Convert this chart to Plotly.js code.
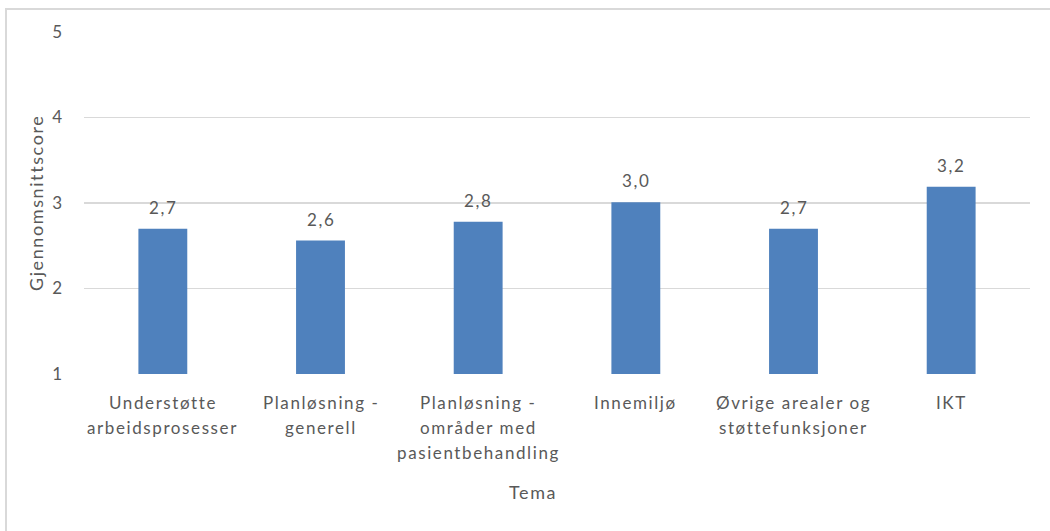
<!DOCTYPE html>
<html>
<head>
<meta charset="utf-8">
<script src="https://cdn.plot.ly/plotly-3.0.1.min.js"></script>
<style>
  html, body { margin: 0; padding: 0; background: #ffffff; }
  text { letter-spacing: 1.6px; }
  #frame {
    position: absolute; left: 5px; top: 8px; width: 1100px; height: 600px;
    border-left: 2px solid #d9d9d9; border-top: 2px solid #d9d9d9; box-sizing: border-box;
  }
  #chart { position: absolute; left: 0; top: 0; width: 1050px; height: 531px; }
</style>
</head>
<body>
<div id="frame"></div>
<div id="chart"></div>
<script>
// Categories (themes), each split into the lines it is wrapped on
const categories = [
  'Understøtte arbeidsprosesser',
  'Planløsning - generell',
  'Planløsning - områder med pasientbehandling',
  'Innemiljø',
  'Øvrige arealer og støttefunksjoner',
  'IKT'
];
const categoryLines = [
  ['Understøtte', 'arbeidsprosesser'],
  ['Planløsning -', 'generell'],
  ['Planløsning -', 'områder med', 'pasientbehandling'],
  ['Innemiljø'],
  ['Øvrige arealer og', 'støttefunksjoner'],
  ['IKT']
];
// Average score per theme
const scores = [2.70, 2.56, 2.78, 3.01, 2.70, 3.19];
const yTicks = [1, 2, 3, 4, 5];

const textColor = '#595959';
const fontFamily = 'Lato, "Open Sans", sans-serif';

const fmt = v => v.toFixed(1).replace('.', ',');

const annotations = [];
// value labels above each bar
categories.forEach((c, i) => {
  annotations.push({
    x: c, y: scores[i], xref: 'x', yref: 'y',
    text: fmt(scores[i]), showarrow: false,
    yanchor: 'bottom', yshift: 9,
    font: { family: fontFamily, size: 17, color: textColor }
  });
});
// wrapped category labels under the axis
categories.forEach((c, i) => {
  categoryLines[i].forEach((line, j) => {
    annotations.push({
      x: c, y: yTicks[0], xref: 'x', yref: 'y',
      text: line, showarrow: false,
      yanchor: 'middle', yshift: -28 - 25 * j,
      font: { family: fontFamily, size: 17, color: textColor }
    });
  });
});
// axis titles
annotations.push({
  x: 0.4746, y: -0.345, xref: 'paper', yref: 'paper',
  text: 'Tema', showarrow: false, xanchor: 'center', yanchor: 'middle',
  font: { family: fontFamily, size: 18, color: textColor }
});
annotations.push({
  x: -0.0507, y: 0.5, xref: 'paper', yref: 'paper',
  text: 'Gjennomsnittscore', showarrow: false, textangle: -90,
  xanchor: 'center', yanchor: 'middle',
  font: { family: fontFamily, size: 18, color: textColor }
});

const trace = {
  type: 'bar',
  x: categories,
  y: scores,
  base: 0,
  marker: { color: '#4f81bd', line: { width: 0 } },
  hoverinfo: 'x+y'
};

const layout = {
  width: 1050, height: 531,
  margin: { l: 84, r: 20, t: 32, b: 157 },
  paper_bgcolor: 'rgba(0,0,0,0)',
  plot_bgcolor: 'rgba(0,0,0,0)',
  bargap: 0.69,
  showlegend: false,
  separators: ', ',
  xaxis: {
    type: 'category',
    showticklabels: false,
    showgrid: false, showline: false, zeroline: false, ticks: ''
  },
  yaxis: {
    range: [1, 5],
    tickvals: yTicks,
    ticktext: yTicks.map(String),
    showgrid: true, gridcolor: '#d9d9d9', gridwidth: 1.3,
    zeroline: false, showline: false,
    ticks: 'outside', ticklen: 16, tickcolor: 'rgba(0,0,0,0)',
    tickfont: { family: fontFamily, size: 17, color: textColor }
  },
  annotations: annotations
};

Plotly.newPlot('chart', [trace], layout, { displayModeBar: false, staticPlot: true });
</script>
</body>
</html>
